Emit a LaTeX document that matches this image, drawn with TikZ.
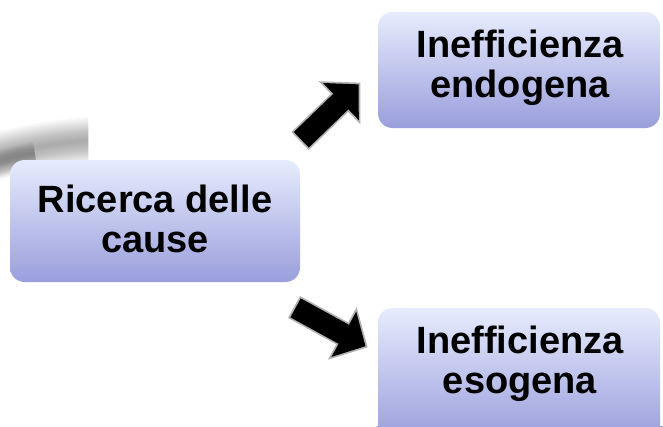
\documentclass[tikz,border=0pt]{standalone}
\usepackage{fontspec}
\setmainfont{Liberation Sans}
\usetikzlibrary{backgrounds,shadows.blur}

\definecolor{boxtop}{RGB}{230,236,253}
\definecolor{boxmid}{RGB}{204,210,246}
\definecolor{boxbot}{RGB}{154,158,220}
\definecolor{edgetop}{RGB}{196,220,196}
\definecolor{edgebot}{RGB}{140,146,206}
\definecolor{streak}{RGB}{70,70,70}

\tikzset{
  x=0.75pt, y=-0.75pt,
  % rounded, vertically shaded box
  causebox/.style={rounded corners=11pt, top color=boxtop, middle color=boxmid,
    bottom color=boxbot, draw=none, align=center, inner sep=0pt},
  boxtext/.style={align=center, inner sep=0pt,
    font=\fontsize{28.5}{30}\selectfont\bfseries},
  % slightly larger rim drawn behind each box, with its soft shadow
  boxrim/.style={rounded corners=12pt, top color=edgetop, bottom color=edgebot,
    blur shadow={shadow xshift=1.5pt, shadow yshift=-2.5pt,
      shadow blur steps=8, shadow opacity=45}},
  % thick black block arrow with a light bevelled rim
  pics/blockarrow/.style={code={
    \fill[gray!60] (0,-12.5) -- (55,-12.5) -- (55,-30) -- (84,0)
      -- (55,30) -- (55,12.5) -- (0,12.5) -- cycle;
    \fill[black] (1.8,-10.8) -- (56.8,-10.8) -- (56.8,-25.8) -- (81.5,0)
      -- (56.8,25.8) -- (56.8,10.8) -- (1.8,10.8) -- cycle;
  }}
}

\begin{document}
\begin{tikzpicture}
\useasboundingbox (0,0) rectangle (663,426);
\fill[white] (0,0) rectangle (663,426);

% soft grey streak at the left edge
\begin{scope}
  \clip (0,110) rectangle (88,190);
  \foreach \w in {48,46.5,...,3}
    \draw[streak, line width=\w*0.75pt, opacity=0.015]
      (-20,160) .. controls (20,150) and (50,143) .. (100,140);
  \foreach \w in {28,27,...,3}
    \draw[streak, line width=\w*0.75pt, opacity=0.016]
      (-20,170) .. controls (0,163) and (15,158) .. (35,155);
\end{scope}

% boxes
\node[causebox, minimum width=290*0.75pt, minimum height=122*0.75pt]
  (cause) at (155,221) {};
\node[causebox, minimum width=282*0.75pt, minimum height=116*0.75pt]
  (endo) at (519,70) {};
\node[causebox, minimum width=282*0.75pt, minimum height=132*0.75pt]
  (eso) at (519,374) {};

\begin{scope}[on background layer]
  \foreach \n in {cause,endo,eso}
    \path[boxrim] ([shift={(-1.2,-1.2)}]\n.north west)
      rectangle ([shift={(1.2,1.2)}]\n.south east);
\end{scope}

% box labels
\node[boxtext] (causeT) at (155,219) {Ricerca delle\\cause};
\node[boxtext] (endoT) at (520,68) {Inefficienza\\endogena};
\node[boxtext] (esoT) at (520,364) {Inefficienza\\esogena};

% block arrows from the cause box towards the two outcomes
\coordinate (upTail) at ([shift={(145,-80)}]cause.center);
\coordinate (downTail) at ([shift={(139,86)}]cause.center);
\pic[rotate=44] at (upTail) {blockarrow};
\pic[rotate=-28.7] at (downTail) {blockarrow};
\end{tikzpicture}
\end{document}
